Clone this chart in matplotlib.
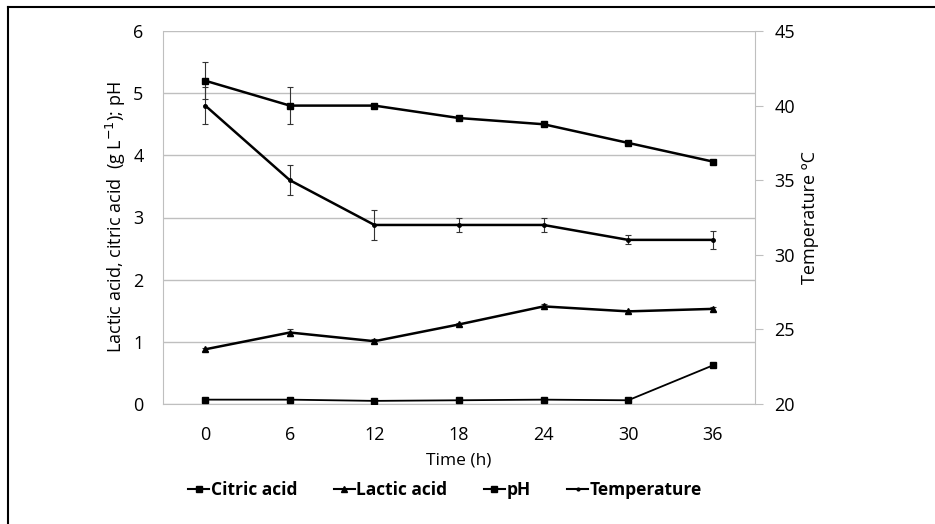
import numpy as np
import matplotlib.pyplot as plt
from matplotlib.lines import Line2D

plt.rcParams['font.family'] = ['Open Sans', 'DejaVu Sans']

time_h = [0, 6, 12, 18, 24, 30, 36]
citric_acid = [0.07, 0.07, 0.05, 0.06, 0.07, 0.06, 0.62]
lactic_acid = [0.88, 1.15, 1.01, 1.28, 1.57, 1.49, 1.53]
lactic_err = [0.02, 0.05, 0.03, 0.03, 0.04, 0.03, 0.03]
ph = [5.2, 4.8, 4.8, 4.6, 4.5, 4.2, 3.9]
ph_err = [0.3, 0.3, 0.0, 0.0, 0.0, 0.0, 0.0]
temperature = [40, 35, 32, 32, 32, 31, 31]
temp_err = [1.25, 1.0, 1.0, 0.5, 0.5, 0.3, 0.6]

fig = plt.figure(figsize=(9.35, 5.24), dpi=100)
ax = fig.add_axes([163 / 935, 1 - 404 / 524, (755 - 163) / 935, (404 - 31) / 524])
ax2 = ax.twinx()

err_kw = dict(ecolor='#333333', elinewidth=0.8, capsize=2.5, capthick=0.8)

ax.errorbar(time_h, ph, yerr=ph_err, color='black', lw=1.8, marker='s',
            ms=5, zorder=3, **err_kw)
ax.errorbar(time_h, lactic_acid, yerr=lactic_err, color='black', lw=1.8,
            marker='^', ms=4.5, zorder=3, **err_kw)
ax.plot(time_h, citric_acid, color='black', lw=1.3, marker='s', ms=5, zorder=3)
ax2.errorbar(time_h, temperature, yerr=temp_err, color='black', lw=1.8,
             marker='o', ms=2.5, zorder=3, **err_kw)

ax.set_xlim(-3, 39)
ax.set_ylim(0, 6)
ax2.set_ylim(20, 45)
ax.set_xticks(time_h)
ax.set_yticks(range(0, 7))
ax2.set_yticks(range(20, 46, 5))

ax.grid(axis='y', color='#bfbfbf', lw=1)
ax.set_axisbelow(True)
for sp in ['top', 'right']:
    ax.spines[sp].set_visible(False)
ax.spines['left'].set_color('#bfbfbf')
ax.spines['bottom'].set_color('#bfbfbf')
for sp in ['top', 'left', 'bottom']:
    ax2.spines[sp].set_visible(False)
ax2.spines['right'].set_color('#bfbfbf')

ax.tick_params(axis='y', length=0, labelsize=13, pad=14)
ax.tick_params(axis='x', length=0, labelsize=13, pad=16)
ax2.tick_params(axis='y', length=6, color='#bfbfbf', labelsize=13, pad=8)

ax.set_xlabel('Time (h)', fontsize=12.5, labelpad=6)
ax.set_ylabel('Lactic acid, citric acid  (g L$^{-1}$); pH', fontsize=13, labelpad=4)
ax2.set_ylabel('Temperature ºC', fontsize=13, labelpad=4)

handles = [
    Line2D([], [], color='black', lw=1.5, marker='s', ms=4.5),
    Line2D([], [], color='black', lw=1.5, marker='^', ms=4),
    Line2D([], [], color='black', lw=1.5, marker='s', ms=4.5),
    Line2D([], [], color='black', lw=1.5, marker='o', ms=2),
]
labels = ['Citric acid', 'Lactic acid', 'pH', 'Temperature']
fig.legend(handles, labels, loc='center', bbox_to_anchor=(0.476, 1 - 490 / 524),
           ncol=4, frameon=False, handlelength=1.2, handletextpad=0.1,
           columnspacing=2.1, prop={'weight': 'bold', 'size': 12.5,
                                    'family': ['Open Sans', 'DejaVu Sans']})

fig.add_artist(Line2D([8 / 935, 8 / 935], [0, 1 - 7 / 524], color='black', lw=1.5))
fig.add_artist(Line2D([8 / 935, 1], [1 - 7 / 524, 1 - 7 / 524], color='black', lw=1.5))

fig.savefig('out.png', dpi=100)
